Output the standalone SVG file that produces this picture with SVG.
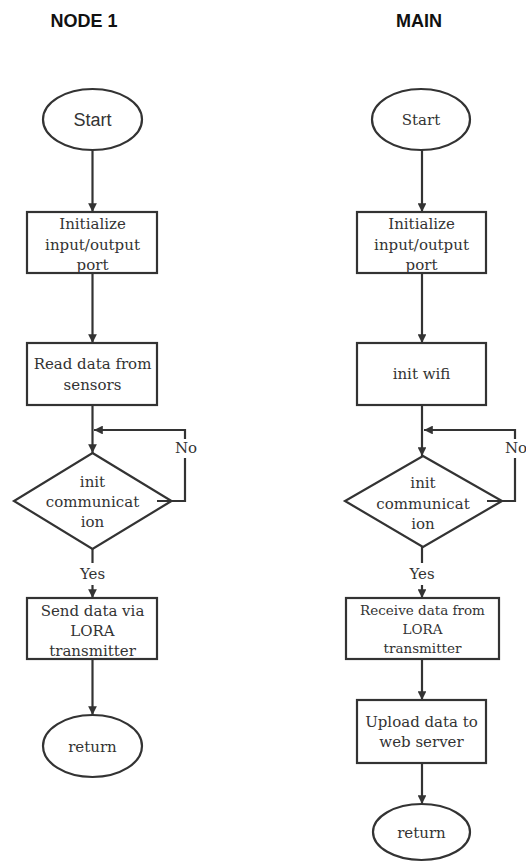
<svg xmlns="http://www.w3.org/2000/svg" width="526" height="862" viewBox="0 0 526 862">
<style>
.sh{fill:#fff;stroke:#333;stroke-width:2.2}
.ln{fill:none;stroke:#333;stroke-width:2.2}
.t{font-family:"DejaVu Serif","Liberation Serif",serif;font-size:15px;fill:#333;text-anchor:middle}
.s{font-size:13.5px}
.ti{font-family:"Liberation Sans",Arial,sans-serif;font-weight:bold;font-size:18px;fill:#111;text-anchor:middle}
.sa{font-family:"Liberation Sans",Arial,sans-serif;font-size:18px;fill:#333;text-anchor:middle}
</style>
<defs>
<marker id="ah" viewBox="0 0 10 10" refX="10" refY="5" markerWidth="4" markerHeight="4" orient="auto" markerUnits="strokeWidth">
<path d="M0,0 L10,5 L0,10 z" fill="#333"/>
</marker>
</defs>
<rect width="526" height="862" fill="#fff"/>
<text class="ti" x="84" y="27">NODE 1</text>
<text class="ti" x="419" y="27">MAIN</text>

<g id="connectors">
<line class="ln" x1="92.5" y1="150" x2="92.5" y2="212" marker-end="url(#ah)"/>
<line class="ln" x1="92.5" y1="273" x2="92.5" y2="343" marker-end="url(#ah)"/>
<line class="ln" x1="92.5" y1="405" x2="92.5" y2="453" marker-end="url(#ah)"/>
<polyline class="ln" points="157,501 185,501 185,430 94,430" marker-end="url(#ah)"/>
<line class="ln" x1="92.5" y1="549" x2="92.5" y2="563"/>
<line class="ln" x1="92.5" y1="585" x2="92.5" y2="598" marker-end="url(#ah)"/>
<line class="ln" x1="92.5" y1="659" x2="92.5" y2="715" marker-end="url(#ah)"/>

<line class="ln" x1="422" y1="150" x2="422" y2="212" marker-end="url(#ah)"/>
<line class="ln" x1="422" y1="273" x2="422" y2="343" marker-end="url(#ah)"/>
<line class="ln" x1="422" y1="405" x2="422" y2="456" marker-end="url(#ah)"/>
<polyline class="ln" points="487,501 515,501 515,430 424,430" marker-end="url(#ah)"/>
<line class="ln" x1="422" y1="547" x2="422" y2="563"/>
<line class="ln" x1="422" y1="585" x2="422" y2="598" marker-end="url(#ah)"/>
<line class="ln" x1="422" y1="659" x2="422" y2="700" marker-end="url(#ah)"/>
<line class="ln" x1="422" y1="763" x2="422" y2="804" marker-end="url(#ah)"/>
<rect x="175" y="439" width="22" height="19" fill="#fff"/>
<text class="t" x="186" y="453">No</text>
<rect x="505" y="439" width="21" height="19" fill="#fff"/>
<text class="t" x="516" y="453">No</text>
<text class="t" x="92.5" y="579">Yes</text>
<text class="t" x="422" y="579">Yes</text>
</g>

<g id="n1-start">
<ellipse class="sh" cx="92.5" cy="119.5" rx="49.5" ry="30.5"/>
<text class="sa" x="92.5" y="126">Start</text>
</g>
<g id="n1-init">
<rect class="sh" x="27" y="212" width="130" height="61"/>
<text class="t" x="92.5" y="229">Initialize</text>
<text class="t" x="92.5" y="250">input/output</text>
<text class="t" x="92.5" y="270">port</text>
</g>
<g id="n1-read">
<rect class="sh" x="27" y="343" width="130" height="62"/>
<text class="t" x="92.5" y="369">Read data from</text>
<text class="t" x="92.5" y="390">sensors</text>
</g>
<g id="n1-decision">
<polygon class="sh" points="92.5,453 171.5,501 92.5,549 14,501" style="fill:none"/>
<text class="t" x="92.5" y="487">init</text>
<text class="t" x="92.5" y="507">communicat</text>
<text class="t" x="92.5" y="527">ion</text>
</g>
<g id="n1-send">
<rect class="sh" x="27" y="598" width="130" height="61"/>
<text class="t" x="92.5" y="616">Send data via</text>
<text class="t" x="92.5" y="636">LORA</text>
<text class="t" x="92.5" y="656">transmitter</text>
</g>
<g id="n1-return">
<ellipse class="sh" cx="92.5" cy="746" rx="49.5" ry="31"/>
<text class="t" x="92.5" y="752">return</text>
</g>

<g id="m-start">
<ellipse class="sh" cx="421" cy="119.5" rx="49" ry="30.5"/>
<text class="t" x="421" y="125">Start</text>
</g>
<g id="m-init">
<rect class="sh" x="357" y="212" width="129" height="61"/>
<text class="t" x="421.5" y="229">Initialize</text>
<text class="t" x="421.5" y="250">input/output</text>
<text class="t" x="421.5" y="270">port</text>
</g>
<g id="m-wifi">
<rect class="sh" x="357" y="343" width="129" height="62"/>
<text class="t" x="421.5" y="379">init wifi</text>
</g>
<g id="m-decision">
<polygon class="sh" points="423,456 502,501 423,547 345,501" style="fill:none"/>
<text class="t" x="423" y="488">init</text>
<text class="t" x="423" y="509">communicat</text>
<text class="t" x="423" y="529">ion</text>
</g>
<g id="m-receive">
<rect class="sh" x="346" y="598" width="153" height="61"/>
<text class="t s" x="422.5" y="615">Receive data from</text>
<text class="t s" x="422.5" y="634">LORA</text>
<text class="t s" x="422.5" y="653">transmitter</text>
</g>
<g id="m-upload">
<rect class="sh" x="357" y="700" width="129" height="63"/>
<text class="t" x="421.5" y="727">Upload data to</text>
<text class="t" x="421.5" y="747">web server</text>
</g>
<g id="m-return">
<ellipse class="sh" cx="421.5" cy="832" rx="48.5" ry="28"/>
<text class="t" x="421.5" y="838">return</text>
</g>
</svg>
